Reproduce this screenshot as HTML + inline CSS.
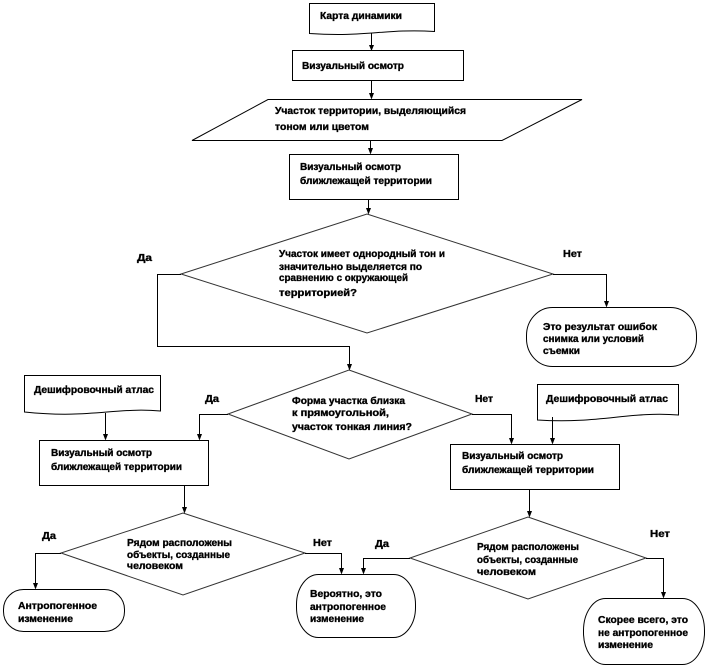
<!DOCTYPE html>
<html>
<head>
<meta charset="utf-8">
<style>
  html,body{margin:0;padding:0;background:#fff;}
  svg{display:block;}
  text{font-family:"Liberation Sans","DejaVu Sans",sans-serif;font-weight:bold;font-size:10px;fill:#000;stroke:#000;stroke-width:0.35px;}
</style>
</head>
<body>
<svg width="707" height="669" viewBox="0 0 707 669" xmlns="http://www.w3.org/2000/svg">
  <g fill="none" stroke="#000" stroke-width="1">
    <path d="M309.5,3.5 H434.5 V31.5 C384.6,28.5 365.7,37.5 309.5,33.5 Z"/>
    <rect x="292.5" y="50.5" width="171" height="30"/>
    <path d="M268,99.5 H582 L502,140.5 H192 Z"/>
    <rect x="289.5" y="154.5" width="169" height="45"/>
    <path d="M367,214 L553,274 L367,333 L181,274 Z" stroke="#333"/>
    <rect x="526.5" y="307.5" width="170" height="59" rx="26" ry="28"/>
    <path d="M349,370 L472,414 L349,459 L228,414 Z" stroke="#333"/>
    <path d="M24.5,375.5 H160.5 V411 C115,407 90,419 24.5,412 Z"/>
    <path d="M537.5,384.5 H678.5 V415 C630,411 600,424 537.5,420 Z"/>
    <rect x="39.5" y="440.5" width="169" height="45"/>
    <rect x="450.5" y="444.5" width="169" height="45"/>
    <path d="M183,513 L305,553 L183,595 L61,553 Z" stroke="#333"/>
    <path d="M528,517 L646,558 L528,599 L410,558 Z" stroke="#333"/>
    <rect x="3.5" y="589.5" width="121" height="42" rx="20" ry="20"/>
    <rect x="296.5" y="574.5" width="119" height="63" rx="22" ry="30"/>
    <rect x="583.5" y="598.5" width="121" height="66" rx="22" ry="32"/>

    <path d="M371.5,33 V49"/>
    <path d="M371.5,80 V97"/>
    <path d="M370.5,140 V152"/>
    <path d="M368.5,199 V212"/>
    <path d="M181,274.5 H157.5 V346.5 H349.5 V368"/>
    <path d="M553,274.5 H606.5 V305"/>
    <path d="M228,414.5 H199.5 V439"/>
    <path d="M105.5,413 V439"/>
    <path d="M472,414.5 H511.5 V443"/>
    <path d="M552.5,417 V443"/>
    <path d="M184.5,485 V511"/>
    <path d="M529.5,489 V515"/>
    <path d="M61,553.5 H35.5 V588"/>
    <path d="M305,553.5 H341.5 V573"/>
    <path d="M410,558.5 H363.5 V573"/>
    <path d="M646,558.5 H663.5 V597"/>
  </g>

  <g fill="#000">
    <polygon points="369,45 374,45 371.5,51"/>
    <polygon points="369,93 374,93 371.5,99.5"/>
    <polygon points="368,148 373,148 370.5,154.5"/>
    <polygon points="366,208 371,208 368.5,214.5"/>
    <polygon points="347,364 352,364 349.5,370.5"/>
    <polygon points="604,301 609,301 606.5,307.5"/>
    <polygon points="197,434 202,434 199.5,440.5"/>
    <polygon points="103,434 108,434 105.5,440.5"/>
    <polygon points="509,438 514,438 511.5,444.5"/>
    <polygon points="550,438 555,438 552.5,444.5"/>
    <polygon points="182,507 187,507 184.5,513.5"/>
    <polygon points="527,511 532,511 529.5,517.5"/>
    <polygon points="33,583 38,583 35.5,589.5"/>
    <polygon points="339,568 344,568 341.5,574.5"/>
    <polygon points="361,568 366,568 363.5,574.5"/>
    <polygon points="661,592 666,592 663.5,598.5"/>
  </g>

  <text x="320" y="19" textLength="82" lengthAdjust="spacingAndGlyphs">Карта динамики</text>
  <text x="302" y="69" textLength="102" lengthAdjust="spacingAndGlyphs">Визуальный осмотр</text>
  <text x="275" y="114" textLength="191" lengthAdjust="spacingAndGlyphs">Участок территории, выделяющийся</text>
  <text x="275" y="130" textLength="94" lengthAdjust="spacingAndGlyphs">тоном или цветом</text>
  <text x="300" y="170" textLength="101" lengthAdjust="spacingAndGlyphs">Визуальный осмотр</text>
  <text x="300" y="184" textLength="132" lengthAdjust="spacingAndGlyphs">ближлежащей территории</text>

  <text x="279" y="257" textLength="166" lengthAdjust="spacingAndGlyphs">Участок имеет однородный тон и</text>
  <text x="279" y="270" textLength="143" lengthAdjust="spacingAndGlyphs">значительно выделяется по</text>
  <text x="279" y="281" textLength="129" lengthAdjust="spacingAndGlyphs">сравнению с окружающей</text>
  <text x="279" y="296" textLength="78" lengthAdjust="spacingAndGlyphs">территорией?</text>

  <text x="137" y="261" textLength="15" lengthAdjust="spacingAndGlyphs">Да</text>
  <text x="563" y="257" textLength="19" lengthAdjust="spacingAndGlyphs">Нет</text>

  <text x="543" y="330" textLength="114" lengthAdjust="spacingAndGlyphs">Это результат ошибок</text>
  <text x="543" y="342" textLength="101" lengthAdjust="spacingAndGlyphs">снимка или условий</text>
  <text x="543" y="354" textLength="37" lengthAdjust="spacingAndGlyphs">съемки</text>

  <text x="292" y="404" textLength="113" lengthAdjust="spacingAndGlyphs">Форма участка близка</text>
  <text x="292" y="416" textLength="97" lengthAdjust="spacingAndGlyphs">к прямоугольной,</text>
  <text x="292" y="430" textLength="120" lengthAdjust="spacingAndGlyphs">участок тонкая линия?</text>

  <text x="205" y="402" textLength="14" lengthAdjust="spacingAndGlyphs">Да</text>
  <text x="475" y="402" textLength="18" lengthAdjust="spacingAndGlyphs">Нет</text>

  <text x="34" y="393" textLength="120" lengthAdjust="spacingAndGlyphs">Дешифровочный атлас</text>
  <text x="546" y="402" textLength="122" lengthAdjust="spacingAndGlyphs">Дешифровочный атлас</text>

  <text x="51" y="456" textLength="101" lengthAdjust="spacingAndGlyphs">Визуальный осмотр</text>
  <text x="51" y="470" textLength="131" lengthAdjust="spacingAndGlyphs">ближлежащей территории</text>
  <text x="462" y="459" textLength="101" lengthAdjust="spacingAndGlyphs">Визуальный осмотр</text>
  <text x="462" y="473" textLength="132" lengthAdjust="spacingAndGlyphs">ближлежащей территории</text>

  <text x="127" y="546" textLength="105" lengthAdjust="spacingAndGlyphs">Рядом расположены</text>
  <text x="127" y="558" textLength="103" lengthAdjust="spacingAndGlyphs">объекты, созданные</text>
  <text x="127" y="569" textLength="56" lengthAdjust="spacingAndGlyphs">человеком</text>

  <text x="477" y="550" textLength="102" lengthAdjust="spacingAndGlyphs">Рядом расположены</text>
  <text x="477" y="563" textLength="101" lengthAdjust="spacingAndGlyphs">объекты, созданные</text>
  <text x="477" y="575" textLength="59" lengthAdjust="spacingAndGlyphs">человеком</text>

  <text x="42" y="539" textLength="14" lengthAdjust="spacingAndGlyphs">Да</text>
  <text x="313" y="546" textLength="19" lengthAdjust="spacingAndGlyphs">Нет</text>
  <text x="375" y="547" textLength="14" lengthAdjust="spacingAndGlyphs">Да</text>
  <text x="650" y="537" textLength="20" lengthAdjust="spacingAndGlyphs">Нет</text>

  <text x="18" y="609" textLength="79" lengthAdjust="spacingAndGlyphs">Антропогенное</text>
  <text x="18" y="622" textLength="55" lengthAdjust="spacingAndGlyphs">изменение</text>

  <text x="310" y="597" textLength="72" lengthAdjust="spacingAndGlyphs">Вероятно, это</text>
  <text x="310" y="610" textLength="76" lengthAdjust="spacingAndGlyphs">антропогенное</text>
  <text x="310" y="622" textLength="54" lengthAdjust="spacingAndGlyphs">изменение</text>

  <text x="598" y="623" textLength="90" lengthAdjust="spacingAndGlyphs">Скорее всего, это</text>
  <text x="598" y="636" textLength="90" lengthAdjust="spacingAndGlyphs">не антропогенное</text>
  <text x="598" y="648" textLength="55" lengthAdjust="spacingAndGlyphs">изменение</text>
</svg>
</body>
</html>
